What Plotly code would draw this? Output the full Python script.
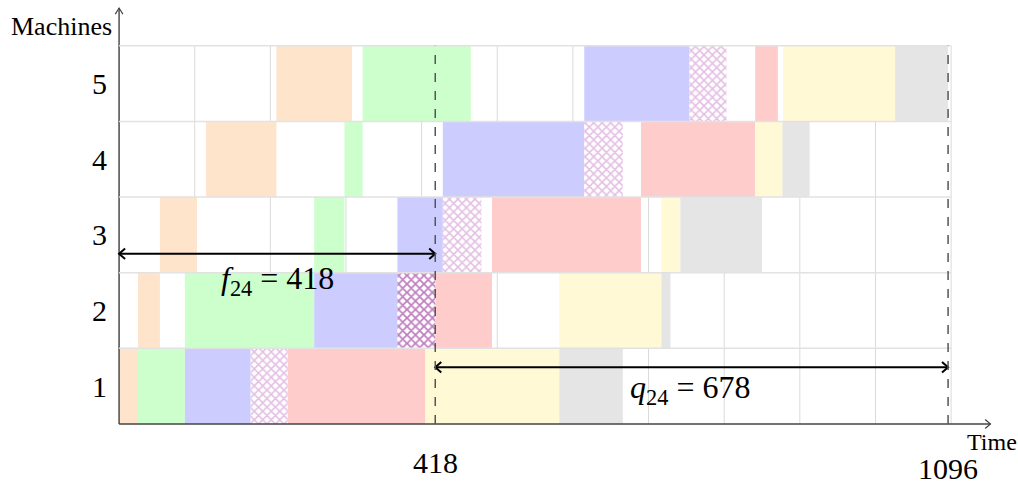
import plotly.graph_objects as go

# Flow-shop schedule: 7 jobs on 5 machines, times of each operation (machine 1..5)
machines = [1, 2, 3, 4, 5]

orange_start = [0, 25, 54, 115, 208]
orange_end = [25, 54, 103, 208, 308]
green_start = [25, 87, 258, 298, 322]
green_end = [87, 258, 298, 322, 465]
blue_start = [87, 258, 368, 428, 615]
blue_end = [174, 368, 428, 615, 754]
hatch_start = [174, 368, 428, 615, 754]
hatch_end = [223, 418, 479, 666, 803]
red_start = [223, 418, 493, 690, 841]
red_end = [405, 493, 690, 841, 871]
yellow_start = [405, 582, 717, 841, 878]
yellow_end = [582, 717, 742, 877, 1026]
gray_start = [582, 717, 742, 877, 1026]
gray_end = [666, 729, 850, 913, 1096]

# highlighted operation (job 4 on machine 2) and its head / tail
op_machine = 2
f24 = 418
q24 = 678
makespan = f24 + q24

machine_labels = ["1", "2", "3", "4", "5"]
time_ticks = [f24, makespan]
time_labels = [str(f24), str(makespan)]
time_label_drop = [38, 44]   # px below the time axis

SERIF = "Liberation Serif, DejaVu Serif, serif"
ROW = 100          # height of one machine row in y units
GRID_X = 1100
GRID_Y = 500
X_END = 1152       # end of the time axis arrow
Y_END = 550        # end of the machines axis arrow

jobs = [
    (orange_start, orange_end, "#FFE4CC", None),
    (green_start, green_end, "#CCFFCC", None),
    (blue_start, blue_end, "#CCCCFF", None),
    (hatch_start, hatch_end, "white", "#C880C8"),
    (red_start, red_end, "#FFCCCC", None),
    (yellow_start, yellow_end, "#FFF9D6", None),
    (gray_start, gray_end, "#E5E5E5", None),
]


def row_center(m):
    return m * ROW - ROW / 2


fig = go.Figure()

for starts, ends, color, hatch in jobs:
    ms, bases, lens = [], [], []
    for m, s, e in zip(machines, starts, ends):
        if hatch is not None and m == op_machine:
            continue
        ms.append(row_center(m))
        bases.append(s)
        lens.append(e - s)
    marker = dict(color=color, line=dict(width=0))
    if hatch is not None:
        marker["pattern"] = dict(shape="x", fgcolor=hatch, bgcolor="white",
                                 size=6, solidity=0.45)
    fig.add_trace(go.Bar(orientation="h", y=ms, x=lens, base=bases,
                         width=ROW, marker=marker, hoverinfo="skip"))

# operation (4, 2) drawn in dark purple hatching
k = op_machine - 1
fig.add_trace(go.Bar(
    orientation="h", y=[row_center(op_machine)],
    x=[hatch_end[k] - hatch_start[k]], base=[hatch_start[k]], width=ROW,
    marker=dict(color="white", line=dict(width=0),
                pattern=dict(shape="x", fgcolor="#800080", bgcolor="white",
                             size=6, solidity=0.5)),
    hoverinfo="skip"))

shapes = []
# vertical grid below the bars, horizontal row separators above them
for gx in range(0, GRID_X + 1, 100):
    shapes.append(dict(type="line", x0=gx, x1=gx, y0=0, y1=GRID_Y, layer="below",
                       line=dict(color="#DADADA", width=1)))
for gy in range(ROW, GRID_Y + 1, ROW):
    shapes.append(dict(type="line", x0=0, x1=GRID_X, y0=gy, y1=gy, layer="above",
                       line=dict(color="#E2E2E2", width=1.5)))
# dashed markers at f24 and the makespan
for dx in (f24, makespan):
    shapes.append(dict(type="line", x0=dx, x1=dx, y0=0, y1=GRID_Y, layer="above",
                       line=dict(color="#555555", width=1.5, dash="dash")))
fig.update_layout(shapes=shapes)


def add_path(xs, ys, color, width):
    fig.add_trace(go.Scatter(x=xs, y=ys, mode="lines", hoverinfo="skip",
                             line=dict(color=color, width=width)))


def h_double_arrow(x0, x1, y, color="black", width=2):
    dx, dy = 8, 7
    add_path([x0, x1], [y, y], color, width)
    add_path([x0 + dx, x0, x0 + dx], [y + dy, y, y - dy], color, width)
    add_path([x1 - dx, x1, x1 - dx], [y + dy, y, y - dy], color, width)


# axes with open arrow tips
axis_color = "#444444"
add_path([0, X_END], [0, 0], axis_color, 1.4)
add_path([X_END - 7, X_END, X_END - 7], [6, 0, -6], axis_color, 1.2)
add_path([0, 0], [0, Y_END], axis_color, 1.4)
add_path([-5, 0, 5], [Y_END - 8, Y_END, Y_END - 8], axis_color, 1.2)

# head f24 and tail q24 of operation (4, 2)
h_double_arrow(0, f24, 225)
h_double_arrow(f24, makespan, 75)

annotations = [
    dict(x=210, y=190, text="<i>f</i><sub>24</sub> = 418", showarrow=False,
         font=dict(family=SERIF, size=32, color="black")),
    dict(x=755, y=45, text="<i>q</i><sub>24</sub> = 678", showarrow=False,
         font=dict(family=SERIF, size=32, color="black")),
    dict(x=X_END, y=0, text="Time", showarrow=False, yanchor="top", yshift=-3,
         xshift=2, font=dict(family=SERIF, size=24, color="black")),
    dict(x=0, y=Y_END - 25, text="Machines", showarrow=False, xanchor="right",
         xshift=-5, font=dict(family=SERIF, size=26, color="black")),
]
# time values under the axis
for tv, tl, drop in zip(time_ticks, time_labels, time_label_drop):
    annotations.append(dict(x=tv, y=0, text=tl, showarrow=False, yanchor="middle",
                            yshift=-drop, font=dict(family=SERIF, size=30, color="black")))
fig.update_layout(annotations=annotations)

fig.update_xaxes(range=[-12, 1162], showgrid=False, zeroline=False, showline=False,
                 showticklabels=False, ticks="")
fig.update_yaxes(range=[-11.9, 555.3], showgrid=False, zeroline=False, showline=False,
                 tickvals=[row_center(m) for m in machines], ticktext=machine_labels,
                 ticks="", ticklabelstandoff=2,
                 tickfont=dict(family=SERIF, size=30, color="black"))

fig.update_layout(
    width=1018, height=484,
    margin=dict(l=110, r=20, t=4, b=51),
    barmode="overlay", showlegend=False,
    plot_bgcolor="white", paper_bgcolor="white",
)

fig.write_html("out.html")
